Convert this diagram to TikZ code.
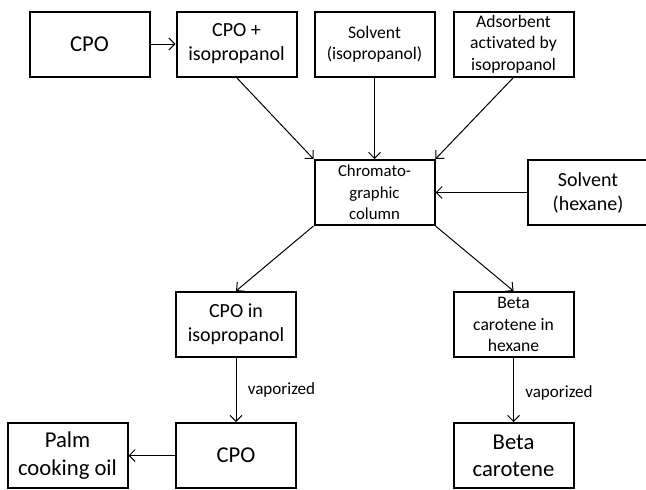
\documentclass[tikz,border=0pt]{standalone}
\usepackage{fontspec}
\setmainfont{Carlito}[Ligatures=NoCommon]
\usetikzlibrary{arrows.meta}
\tikzset{
  box/.style={draw=black, line width=1.5pt, minimum width=90pt, minimum height=48.75pt, inner sep=1pt, align=center, fill=white},
  big/.style={font=\fontsize{17}{20.5}\selectfont},
  mid/.style={font=\fontsize{15}{18}\selectfont},
  small/.style={font=\fontsize{13.2}{16}\selectfont},
  conn/.style={line width=0.75pt, -{Straight Barb[length=4.5pt,width=9pt]}},
  lab/.style={font=\fontsize{12.8}{15}\selectfont, inner sep=0pt}
}
\begin{document}
\begin{tikzpicture}[x=0.75pt, y=-0.75pt]
\useasboundingbox (0,0) rectangle (646,489);
\clip (0,0) rectangle (646,489);
\fill[white] (0,0) rectangle (646,489);
\node[box, big] (cpo) at (89.5,44) {CPO};
\node[box, mid] (cpoiso) at (236.5,44) {CPO +\\isopropanol};
\node[box, small] (solviso) at (374.5,44) {Solvent\\(isopropanol)};
\node[box, small] (adsorb) at (513.5,44) {Adsorbent\\activated by\\isopropanol};
\node[box, font=\fontsize{12.6}{16}\selectfont] (column) at (374.5,192.5) {Chromato-\\graphic\\column};
\node[box, mid] (solvhex) at (588,192.5) {Solvent\\(hexane)};
\node[box, mid] (cpoiniso) at (236,324.5) {CPO in\\isopropanol};
\node[box, small] (betahex) at (513.5,324.5) {Beta\\carotene in\\hexane};
\node[box, big] (cpo2) at (236,455.5) {CPO};
\node[box, big] (palm) at (67.5,455.5) {Palm\\cooking oil};
\node[box, big] (beta) at (513.5,455.5) {Beta\\carotene};
\draw[conn] (cpo) -- (cpoiso);
\draw[conn] (cpoiso.south) -- (column.north west);
\draw[conn] (solviso) -- (column);
\draw[conn] (adsorb.south) -- (column.north east);
\draw[conn] (solvhex) -- (column);
\draw[conn] (column.south west) -- (cpoiniso.north);
\draw[conn] (column.south east) -- (betahex.north);
\draw[conn] (cpoiniso) -- node[lab, midway, anchor=west, xshift=8.5pt] {vaporized} (cpo2);
\draw[conn] (betahex) -- node[lab, midway, anchor=west, xshift=8.5pt, yshift=-2pt] {vaporized} (beta);
\draw[conn] (cpo2) -- (palm);
\end{tikzpicture}
\end{document}
